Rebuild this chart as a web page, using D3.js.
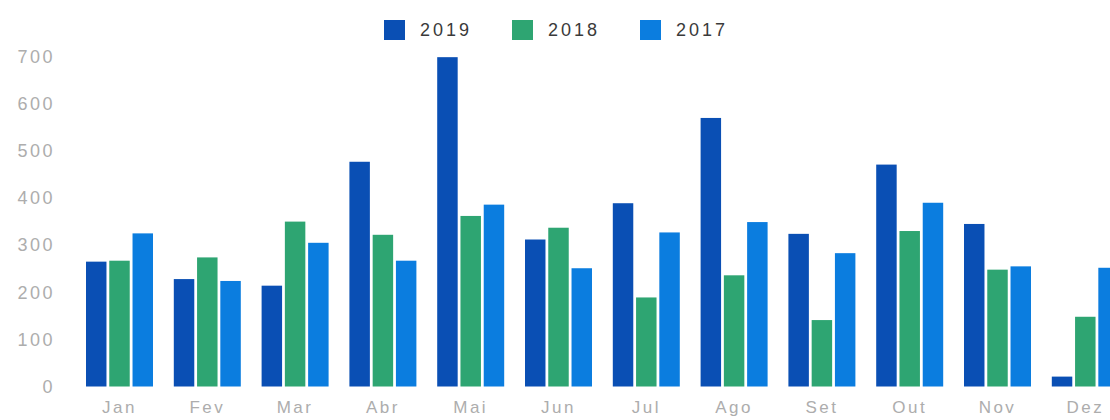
<!DOCTYPE html>
<html>
<head>
<meta charset="utf-8">
<script src="https://cdn.jsdelivr.net/npm/d3@7"></script>
<style>
  body { margin: 0; background: #fff; }
  .axis text { font-family: "Liberation Sans", Arial, sans-serif; font-size: 18px; fill: #adadad; letter-spacing: 2.5px; }
  .x.axis text { font-size: 17px; }
  .legend text { font-family: "Liberation Sans", Arial, sans-serif; font-size: 18px; fill: #3a3a3a; letter-spacing: 3px; }
</style>
</head>
<body>
<div id="chart"></div>
<script>
// month labels (pt-BR)
const months = ["Jan", "Fev", "Mar", "Abr", "Mai", "Jun", "Jul", "Ago", "Set", "Out", "Nov", "Dez"];
const years = ["2019", "2018", "2017"];
const colors = ["#0a4fb4", "#2ea572", "#0b7ddf"];

const v2019 = [265, 228, 214, 477, 699, 312, 389, 570, 324, 471, 345, 21];
const v2018 = [267, 274, 350, 322, 362, 337, 189, 236, 141, 330, 248, 148];
const v2017 = [325, 224, 305, 267, 386, 251, 327, 349, 283, 390, 255, 252];

const yTicks = [0, 100, 200, 300, 400, 500, 600, 700];

const series = [v2019, v2018, v2017];
const rows = months.map((m, i) => ({ month: m, values: years.map((y, j) => ({ year: y, value: series[j][i] })) }));

const width = 1110, height = 420;

const svg = d3.select("#chart").append("svg")
    .attr("width", width)
    .attr("height", height);

const x0 = d3.scaleBand()
    .domain(months)
    .range([75.6, 1129.2])
    .paddingInner(0.237)
    .paddingOuter(0.1185);

const x1 = d3.scaleBand()
    .domain(years)
    .range([0, x0.bandwidth()])
    .paddingInner(0.12);

const y = d3.scaleLinear()
    .domain([0, 700])
    .range([386.5, 56.7]);

const color = d3.scaleOrdinal().domain(years).range(colors);

// bars
const groups = svg.append("g").selectAll("g")
    .data(rows)
    .join("g")
      .attr("transform", d => "translate(" + x0(d.month) + ",0)");

groups.selectAll("rect")
    .data(d => d.values)
    .join("rect")
      .attr("x", d => x1(d.year))
      .attr("y", d => y(d.value))
      .attr("width", x1.bandwidth())
      .attr("height", d => y(0) - y(d.value))
      .attr("fill", d => color(d.year));

// y axis, labels only
const yAxis = svg.append("g")
    .attr("class", "y axis")
    .attr("transform", "translate(55,0)")
    .call(d3.axisLeft(y).tickValues(yTicks).tickSize(0).tickPadding(0));
yAxis.select(".domain").remove();
yAxis.selectAll("text").attr("font-size", null).attr("font-family", null);

// x axis, labels only (pulled up a little so they stay inside the frame)
const xAxis = svg.append("g")
    .attr("class", "x axis")
    .attr("transform", "translate(0," + y(0) + ")")
    .call(d3.axisBottom(x0).tickSize(0).tickPadding(14));
xAxis.select(".domain").remove();
xAxis.selectAll("text").attr("font-size", null).attr("font-family", null);

// legend
const legend = svg.append("g")
    .attr("class", "legend")
    .attr("transform", "translate(384,20)");

const item = legend.selectAll("g")
    .data(years)
    .join("g")
      .attr("transform", (d, i) => "translate(" + i * 128 + ",0)");

item.append("rect")
    .attr("width", 21)
    .attr("height", 20)
    .attr("fill", d => color(d));

item.append("text")
    .attr("x", 36)
    .attr("y", 16)
    .text(d => d);
</script>
</body>
</html>
